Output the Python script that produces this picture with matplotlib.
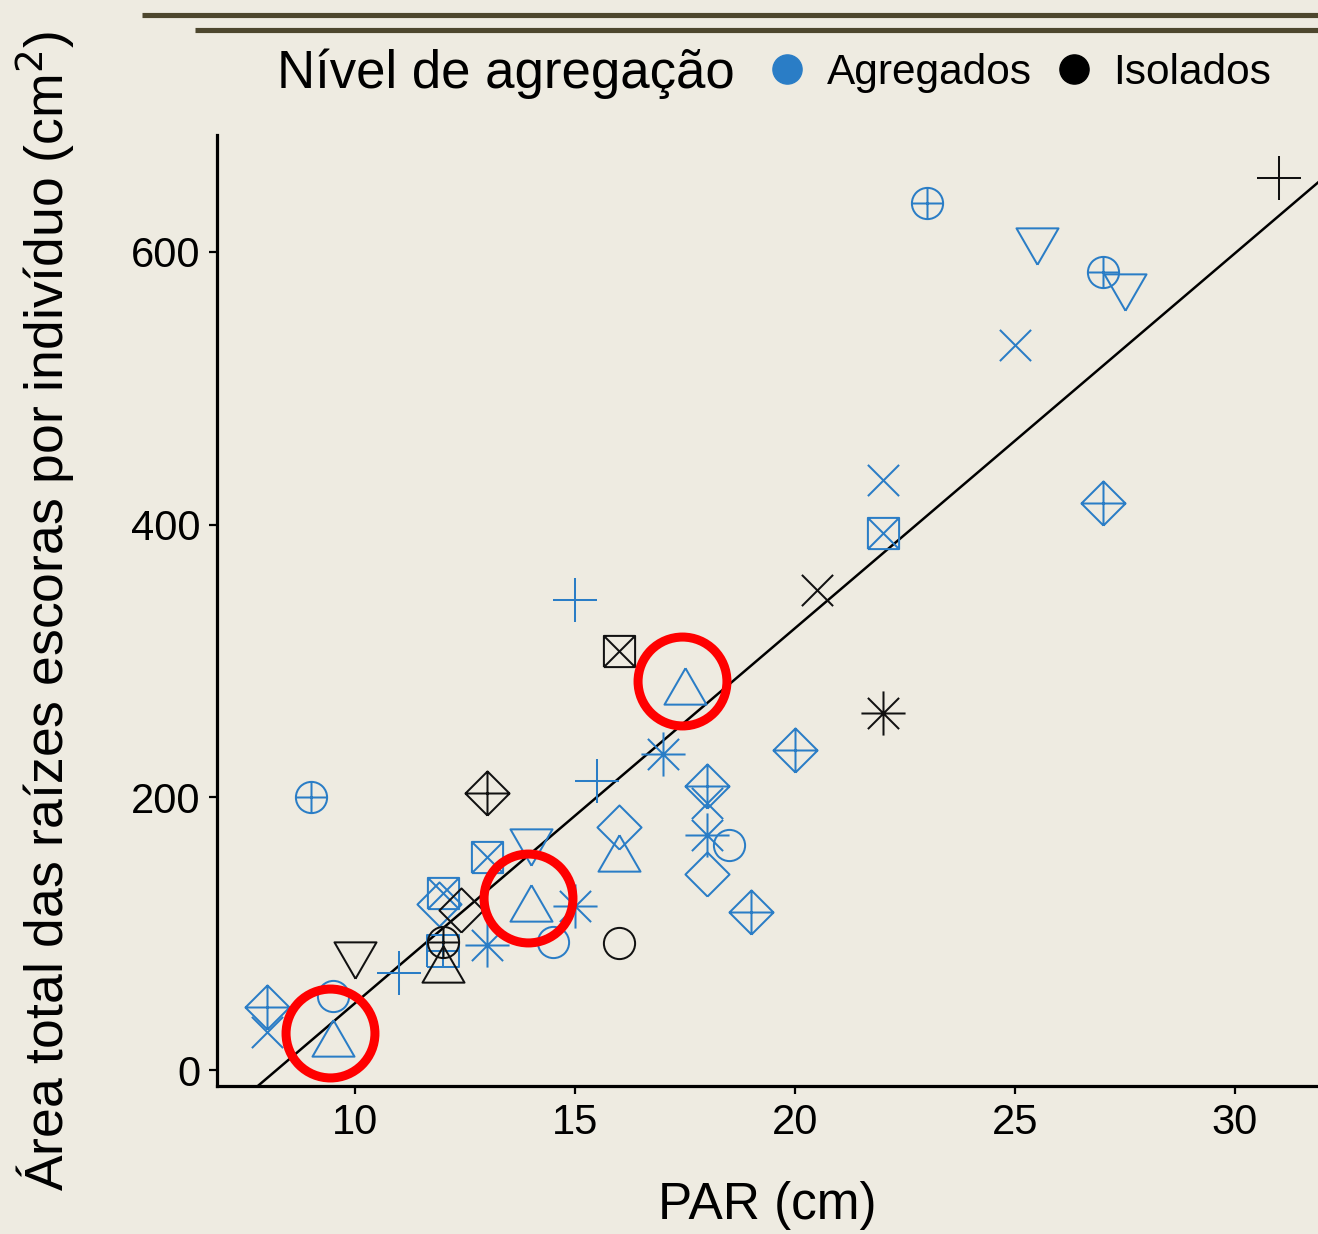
import numpy as np
import matplotlib
matplotlib.use("Agg")
import matplotlib.pyplot as plt
from matplotlib.path import Path
from matplotlib.lines import Line2D
from matplotlib import transforms


# ============================================================
# Dados
# ============================================================
par_agregados = [9, 23, 25.5, 27, 27.5, 25, 22, 27, 22, 15, 17.5, 17, 15.5, 18,
                 18, 20, 16, 16, 18, 18.5, 18, 19, 14, 15, 14.5, 13, 14, 12,
                 11.9, 9.5, 9.5, 11, 12, 13, 8, 8]
area_agregados = [200, 636, 609, 585, 575, 532, 433, 416, 394, 345, 277, 232, 212,
                  208, 196, 235, 178, 155, 172, 165, 144, 116, 118, 120, 94, 156,
                  168, 130, 122, 19, 54, 71, 87, 92, 46, 28]
forma_agregados = ["circp", "circp", "trid", "circp", "trid", "x", "x", "diap",
                   "sqx", "plus", "tri", "ast", "plus", "diap", "x", "diap",
                   "diam", "tri", "ast", "circ", "diam", "diap", "tri", "ast",
                   "circ", "sqx", "trid", "sqx", "diam", "tri", "circ", "plus",
                   "sqp", "ast", "diap", "x"]
# pontos marcados com círculo vermelho
destaque_agregados = [False, False, False, False, False, False, False, False,
                      False, False, True, False, False, False, False, False,
                      False, False, False, False, False, False, True, False,
                      False, False, False, False, False, True, False, False,
                      False, False, False, False]

par_isolados = [31, 20.5, 22, 16, 16, 13, 12.4, 10, 12, 12]
area_isolados = [654, 352, 262, 307, 93, 203, 117, 85, 94, 73]
forma_isolados = ["plus", "x", "ast", "sqx", "circ", "diap", "diam", "trid",
                  "circp", "tri"]

# reta de regressão
reta_inclinacao = 27.5
reta_intercepto = -226.0

x_ticks = [10, 15, 20, 25, 30]
y_ticks = [0, 200, 400, 600]

grupos = ["Agregados", "Isolados"]


# ============================================================
# Estilo
# ============================================================
FUNDO = "#EEEBE1"
AZUL = "#2A7DC6"
PRETO = "#111111"
VERMELHO = "#FF0000"
OLIVA = "#4D472E"

plt.rcParams["font.family"] = ["Liberation Sans", "DejaVu Sans"]

W, H = 1318, 1234
R_PT = 15.6 * 0.72   # raio dos símbolos (pch do R) em pontos


# ============================================================
# Símbolos no estilo pch do R
# ============================================================
def linhas(*polys):
    verts, codes = [], []
    for p in polys:
        verts += p
        codes += [Path.MOVETO] + [Path.LINETO] * (len(p) - 1)
    return Path(verts, codes)


def simbolo(nome):
    s = np.sqrt(2)
    quad = [(-1, -1), (1, -1), (1, 1), (-1, 1), (-1, -1)]
    diam = [(0, -s), (s, 0), (0, s), (-s, 0), (0, -s)]
    if nome == "circ":
        return Path.unit_circle()
    if nome == "circp":
        return Path.make_compound_path(
            Path.unit_circle(), linhas([(-1, 0), (1, 0)], [(0, -1), (0, 1)]))
    if nome == "sqx":
        return linhas(quad, [(-1, -1), (1, 1)], [(-1, 1), (1, -1)])
    if nome == "sqp":
        return linhas(quad, [(-1, 0), (1, 0)], [(0, -1), (0, 1)])
    if nome == "tri":
        return linhas([(0, 1.555), (1.347, -0.778), (-1.347, -0.778), (0, 1.555)])
    if nome == "trid":
        return linhas([(0, -1.555), (1.347, 0.778), (-1.347, 0.778), (0, -1.555)])
    if nome == "plus":
        return linhas([(-s, 0), (s, 0)], [(0, -s), (0, s)])
    if nome == "x":
        return linhas([(-1, -1), (1, 1)], [(-1, 1), (1, -1)])
    if nome == "diam":
        return linhas(diam)
    if nome == "diap":
        return linhas(diam, [(-s, 0), (s, 0)], [(0, -s), (0, s)])
    if nome == "ast":
        return linhas([(-1, -1), (1, 1)], [(-1, 1), (1, -1)],
                      [(-s, 0), (s, 0)], [(0, -s), (0, s)])


def tamanho(path):
    return 2 * np.max(np.abs(path.vertices)) * R_PT


def desenha_grupo(ax, xs, ys, formas, cor):
    xs = np.array(xs)
    ys = np.array(ys)
    formas = np.array(formas)
    for f in dict.fromkeys(formas):
        m = formas == f
        p = simbolo(f)
        ax.plot(xs[m], ys[m], ls="none", marker=p, ms=tamanho(p),
                mfc="none", mec=cor, mew=1.45, zorder=3)


# ============================================================
# Figura
# ============================================================
fig = plt.figure(figsize=(W / 100, H / 100), dpi=100, facecolor=FUNDO)
ax = fig.add_axes([217 / W, 1 - 1086 / H, (W - 217) / W, (1086 - 135) / H])
ax.set_facecolor(FUNDO)

desenha_grupo(ax, par_agregados, area_agregados, forma_agregados, AZUL)
desenha_grupo(ax, par_isolados, area_isolados, forma_isolados, PRETO)

# reta de regressão
ax.axline((0, reta_intercepto), slope=reta_inclinacao, color="black",
          lw=1.8, zorder=2)

# círculos vermelhos de destaque
m = np.array(destaque_agregados)
desloc = transforms.offset_copy(ax.transData, fig=fig, x=-3, y=11, units="dots")
ax.plot(np.array(par_agregados)[m], np.array(area_agregados)[m], ls="none",
        marker="o", ms=64, mfc="none", mec=VERMELHO, mew=6.5,
        transform=desloc, clip_on=False, zorder=5)

ax.set_xlim(6.864, 31.886)
ax.set_ylim(-11.73, 685.7)
ax.set_xticks(x_ticks)
ax.set_yticks(y_ticks)

for lado in ["top", "right"]:
    ax.spines[lado].set_visible(False)
for lado in ["left", "bottom"]:
    ax.spines[lado].set_linewidth(2.3)
    ax.spines[lado].set_color("black")

ax.tick_params(axis="both", length=5.5, width=1.6, color="black",
               labelsize=30, pad=6.5, labelcolor="black")

ax.set_xlabel("PAR (cm)", fontsize=37)
ax.xaxis.set_label_coords(0.5, -0.100)
ax.set_ylabel("Área total das raízes escoras por indivíduo (cm$^2$)",
              fontsize=38.5)
ax.yaxis.set_label_coords(-0.127, 0.5)

# legenda
fig.text(277 / W, 1 - 88 / H, "Nível de agregação", fontsize=38,
         ha="left", va="baseline")
handles = [Line2D([], [], ls="none", marker="o", ms=21, color=c)
           for c in [AZUL, "black"]]
fig.legend(handles, grupos, ncol=2, loc="center left",
           bbox_to_anchor=(766 / W, 1 - 73 / H), frameon=False, fontsize=30.5,
           handlelength=1.0, handletextpad=0.43, columnspacing=0.5,
           borderpad=0, borderaxespad=0)

# linhas decorativas no topo
fig.add_artist(Line2D([142 / W, 1], [1 - 15 / H, 1 - 15 / H], color=OLIVA,
                      lw=3.7, solid_capstyle="butt"))
fig.add_artist(Line2D([195 / W, 1], [1 - 30 / H, 1 - 30 / H], color=OLIVA,
                      lw=3.7, solid_capstyle="butt"))

fig.savefig("out.png", dpi=100, facecolor=FUNDO)
